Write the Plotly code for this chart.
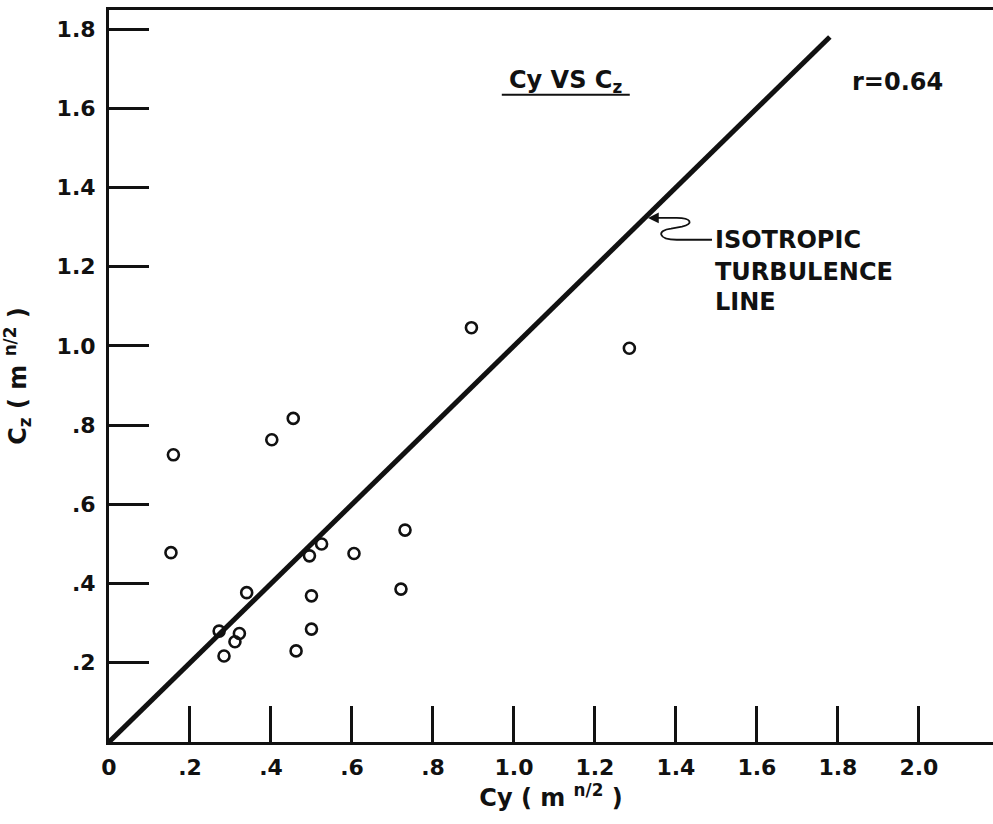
import plotly.graph_objects as go

# ---- data ----
cy_vals = [0.159, 0.153, 0.402, 0.455, 0.340, 0.272, 0.322, 0.311, 0.284, 0.462,
           0.500, 0.500, 0.495, 0.525, 0.605, 0.731, 0.721, 0.895, 1.285]
cz_vals = [0.725, 0.478, 0.763, 0.817, 0.377, 0.280, 0.274, 0.253, 0.217, 0.230,
           0.369, 0.285, 0.470, 0.500, 0.476, 0.535, 0.386, 1.046, 0.994]
iso_x = [0.0, 1.78]
iso_y = [0.0, 1.78]
x_tickvals = [0.0, 0.2, 0.4, 0.6, 0.8, 1.0, 1.2, 1.4, 1.6, 1.8, 2.0]
x_ticktext = ["0", ".2", ".4", ".6", ".8", "1.0", "1.2", "1.4", "1.6", "1.8", "2.0"]
y_tickvals = [0.2, 0.4, 0.6, 0.8, 1.0, 1.2, 1.4, 1.6, 1.8]
y_ticktext = [".2", ".4", ".6", ".8", "1.0", "1.2", "1.4", "1.6", "1.8"]

FONT = "DejaVu Sans"
BLACK = "#111111"

fig = go.Figure()
fig.add_trace(go.Scatter(x=iso_x, y=iso_y, mode="lines",
                         line=dict(color=BLACK, width=5), hoverinfo="skip"))
fig.add_trace(go.Scatter(x=cy_vals, y=cz_vals, mode="markers",
                         marker=dict(symbol="circle-open", size=11, color=BLACK,
                                     line=dict(width=2.6, color=BLACK))))

# title underline
fig.add_shape(type="line", xref="x", yref="y", x0=0.970, x1=1.286, y0=1.634, y1=1.634,
              line=dict(color=BLACK, width=2))
# squiggle leader
fig.add_shape(type="path", xref="x", yref="y",
              path="M 1.489 1.268 L 1.402 1.268 C 1.355 1.268 1.352 1.292 1.388 1.296 "
                   "L 1.415 1.301 C 1.445 1.308 1.438 1.323 1.402 1.323 L 1.345 1.323",
              line=dict(color=BLACK, width=1.8))

annos = [
    dict(x=1.128, y=1.667, text="Cy VS C<sub>z</sub>", size=24),
    dict(x=1.948, y=1.667, text="r=0.64", size=24),
]
for a in annos:
    fig.add_annotation(x=a["x"], y=a["y"], xref="x", yref="y", text=a["text"],
                       showarrow=False, font=dict(family=FONT, size=a["size"], color=BLACK, weight="bold"))
for txt, yy in [("ISOTROPIC", 1.268), ("TURBULENCE", 1.187), ("LINE", 1.111)]:
    fig.add_annotation(x=1.491, y=yy, xref="x", yref="y", text=txt, showarrow=False,
                       xanchor="left", font=dict(family=FONT, size=24, color=BLACK, weight="bold"))
# arrow head
fig.add_annotation(x=1.331, y=1.323, ax=1.36, ay=1.323, xref="x", yref="y", axref="x", ayref="y",
                   text="", showarrow=True, arrowhead=2, arrowsize=1.2, arrowwidth=1.8,
                   arrowcolor=BLACK)

fig.update_layout(
    width=993, height=824,
    margin=dict(l=109, r=0, t=10, b=82),
    paper_bgcolor="white", plot_bgcolor="white",
    showlegend=False,
    font=dict(family=FONT, color=BLACK),
    xaxis=dict(range=[0, 2.183], tickvals=x_tickvals, ticktext=x_ticktext,
               showgrid=False, zeroline=False, showline=True, linecolor=BLACK, linewidth=3,
               mirror=True, ticks="inside", ticklen=36, tickwidth=3, tickcolor=BLACK,
               tickfont=dict(family=FONT, size=22, color=BLACK, weight="bold"),
               ticklabelstandoff=4,
               title=dict(text="Cy ( m <sup>n/2</sup> )", standoff=6,
                          font=dict(family=FONT, size=24, color=BLACK, weight="bold")),
               automargin=False),
    yaxis=dict(range=[0, 1.848], tickvals=y_tickvals, ticktext=y_ticktext,
               showgrid=False, zeroline=False, showline=True, linecolor=BLACK, linewidth=3,
               ticks="inside", ticklen=40, tickwidth=2.5, tickcolor=BLACK,
               tickfont=dict(family=FONT, size=22, color=BLACK, weight="bold"),
               ticklabelstandoff=6,
               title=dict(text="C<sub>z</sub> ( m <sup>n/2</sup> )", standoff=24,
                          font=dict(family=FONT, size=24, color=BLACK, weight="bold")),
               automargin=False),
)

fig.write_html("out.html")
